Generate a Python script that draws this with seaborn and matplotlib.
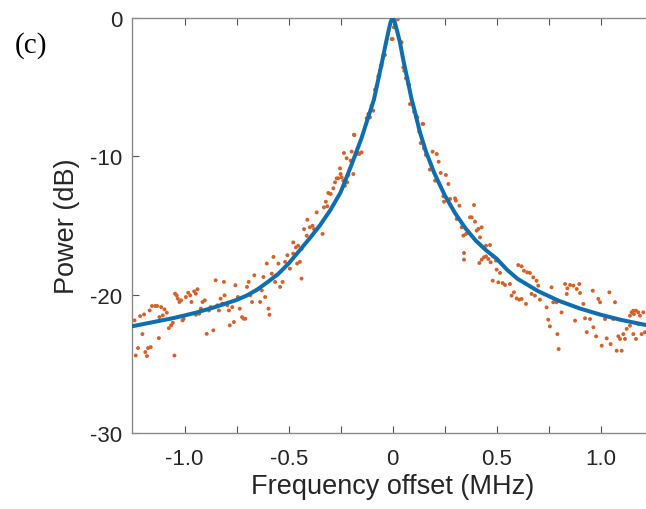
import numpy as np
import pandas as pd
import matplotlib
matplotlib.use("Agg")
import matplotlib.pyplot as plt
import seaborn as sns

# ---------------- data ----------------
left_tail_x = [-1.241,-1.235,-1.224,-1.203,-1.214,-1.195,-1.189,-1.181,-1.176,-1.163,
               -1.168,-1.157,-1.141,-1.132,-1.121,-1.113,-1.105,-1.097,-1.086,-1.124,
               -1.076,-1.065,-1.057,-1.049,-1.046,-1.038,-1.033,-1.025,-1.017,-1.010,
               -1.005,-0.994,-0.983,-0.973,-0.967,-0.954,-0.946,-0.938,-0.946,-0.930,
               -0.922,-0.914,-0.903,-0.894,-0.883,-0.875,-0.862,-0.851,-0.843,-0.835,
               -0.827,-0.819,-0.811,-0.808,-0.795,-0.787,-0.783,-0.771,-0.763,-0.756,
               -0.744,-0.735,-0.724,-0.716,-0.708,-0.700,-0.692,-0.684,-0.676,-0.665,
               -0.656,-0.644,-0.637,-0.629,-0.621,-0.613,-0.605,-0.597,-0.592,-0.581,
               -0.573,-0.565,-0.557,-0.549,-0.541,-0.529,-0.517,-0.506,-0.494,-0.478,
               -0.459,-0.446,-0.438]
left_tail_y = [-21.86,-24.40,-23.86,-22.85,-21.55,-21.43,-24.15,-24.44,-23.86,-23.79,
               -21.14,-20.82,-20.82,-20.82,-21.62,-20.90,-21.50,-21.06,-21.30,-23.14,
               -22.42,-22.22,-22.03,-24.40,-19.93,-20.05,-20.29,-20.53,-20.41,-21.86,
               -21.74,-20.17,-19.86,-20.05,-20.53,-19.76,-19.93,-19.61,-21.45,-21.38,
               -21.01,-20.53,-20.41,-22.83,-21.14,-20.90,-22.58,-18.96,-20.77,-21.14,
               -20.29,-20.65,-19.08,-20.05,-20.77,-21.14,-22.22,-20.90,-21.98,-19.32,
               -20.17,-21.01,-21.62,-21.74,-21.74,-19.44,-19.08,-20.05,-20.53,-18.60,
               -19.69,-19.57,-20.53,-19.69,-18.72,-20.17,-17.75,-21.01,-21.45,-18.48,
               -17.27,-19.08,-18.60,-17.75,-19.44,-19.08,-17.63,-17.15,-18.12,-17.03,
               -17.75,-17.63,-18.84]

left_rise_x = [-0.337,-0.330,-0.321,-0.314,-0.309,-0.298,-0.285,-0.277,-0.269,-0.261,
               -0.250,-0.245,-0.237,-0.229,-0.218,-0.234,-0.221,-0.202,-0.197,-0.189,
               -0.184,-0.173,-0.160,-0.149,-0.125,-0.117,-0.109,-0.101,-0.093,-0.085,
               -0.077,-0.069,-0.061,-0.056,-0.045,-0.037,-0.005,0.006,0.016,0.024,
               -0.186,-0.053,-0.064,
               -0.478,-0.465,-0.454,-0.438,-0.426,-0.413,-0.410,-0.398,-0.385,-0.378,
               -0.365,-0.253,-0.213,-0.165]
left_rise_y = [-15.61,-13.69,-13.28,-13.61,-12.65,-12.72,-12.31,-11.88,-11.59,-11.59,
               -11.28,-11.52,-11.76,-12.12,-11.88,-9.76,-10.14,-10.31,-9.66,-11.28,
               -8.46,-9.83,-9.83,-9.71,-7.25,-6.94,-7.18,-6.34,-6.70,-5.18,
               -4.94,-4.22,-3.81,-3.45,-2.72,-2.67,-1.52,-0.67,-0.02,-0.10,
               -8.44,-3.45,-4.17,
               -16.22,-16.58,-16.46,-16.70,-15.26,-15.74,-14.58,-15.13,-15.02,-15.26,
               -14.05,-10.87,-11.35,-9.76]

right_fall_x = [0.043,0.051,0.056,0.064,0.071,0.080,0.083,0.103,0.112,0.119,
                0.128,0.135,0.144,0.151,0.160,0.179,0.192,0.204,0.212,0.221,
                0.231,0.244,0.247,0.256,0.268,0.276,0.300,0.304,0.308,0.321,
                0.332,0.340,0.353,0.364,0.372,0.380,0.391,0.396,0.404,0.412,
                0.420,0.428,0.449,0.468,0.000,0.027,0.075,0.147]
right_fall_y = [-1.76,-3.57,-3.81,-4.36,-4.36,-4.84,-6.22,-6.77,-7.11,-7.18,
                -8.22,-9.04,-7.66,-9.42,-9.90,-10.96,-9.66,-11.76,-9.83,-10.39,
                -11.20,-12.89,-13.28,-11.35,-12.00,-13.08,-13.04,-13.20,-14.53,-13.57,
                -15.13,-15.73,-15.61,-15.49,-14.41,-14.41,-13.52,-14.72,-15.37,-15.25,
                -15.86,-15.13,-16.46,-16.41,-1.52,0.0,-4.77,-7.66]

right_tail_x = [0.343,0.343,0.417,0.428,0.439,0.449,0.460,0.471,0.484,0.497,
                0.481,0.508,0.529,0.540,0.500,0.516,0.564,0.572,0.583,0.596,
                0.609,0.620,0.604,0.620,0.631,0.647,0.660,0.641,0.676,0.692,
                0.700,0.668,0.684,0.708,0.740,0.748,0.756,0.764,0.772,0.788,
                0.792,0.798,0.812,0.829,0.840,0.853,0.869,0.885,0.897,0.901,
                0.837,0.877,0.917,0.925,0.933,0.949,0.962,0.965,0.978,0.989,
                0.997,1.005,1.021,1.029,1.042,1.048,1.061,1.069,1.077,1.085,
                1.093,1.101,1.109,1.117,1.125,1.141,1.149,1.157,1.160,1.170,
                1.181,1.189,1.205,1.141,1.157,1.170,1.181,1.197,1.213]
right_tail_y = [-16.99,-17.47,-17.71,-17.47,-17.30,-17.23,-17.42,-17.66,-17.23,-17.54,
                -18.99,-19.11,-19.16,-19.30,-18.19,-18.43,-19.23,-20.07,-19.83,-20.27,
                -20.36,-20.31,-17.86,-17.95,-18.27,-18.39,-18.43,-20.67,-18.75,-18.99,
                -19.35,-19.95,-20.07,-20.36,-20.92,-21.81,-22.29,-19.47,-20.55,-20.55,
                -22.85,-23.93,-21.28,-19.23,-19.54,-19.30,-19.35,-19.59,-19.23,-19.88,
                -19.95,-21.88,-20.67,-21.71,-22.71,-21.76,-19.71,-22.36,-23.01,-20.31,
                -20.55,-23.69,-21.76,-23.16,-19.83,-23.57,-21.76,-20.55,-24.05,-23.01,
                -23.20,-24.05,-22.85,-23.20,-22.47,-21.52,-21.28,-21.16,-21.40,-21.16,
                -21.28,-21.52,-21.28,-22.24,-22.85,-23.20,-22.12,-22.85,-22.72]

fit_x = [-1.25,-1.15,-1.05,-0.95,-0.85,-0.75,-0.70,-0.65,-0.60,-0.55,-0.50,-0.45,
         -0.40,-0.35,-0.30,-0.25,-0.20,-0.15,-0.12,-0.09,-0.07,-0.05,-0.035,-0.02,
         -0.01,0.0,0.01,0.02,0.035,0.05,0.07,0.09,0.11,0.13,0.16,0.20,0.25,0.30,
         0.35,0.40,0.45,0.50,0.55,0.60,0.70,0.80,0.90,1.00,1.10,1.22]
fit_y = [-22.28,-21.98,-21.68,-21.32,-20.88,-20.38,-20.05,-19.62,-19.08,-18.50,-17.75,-16.85,
         -15.95,-15.00,-13.90,-12.60,-10.70,-8.70,-7.30,-5.90,-4.50,-3.10,-2.00,-0.95,
         -0.30,0.0,-0.30,-0.85,-1.75,-2.95,-4.35,-5.80,-6.95,-8.20,-9.65,-11.20,-12.80,-14.10,
         -15.20,-16.10,-16.80,-17.40,-18.20,-18.85,-19.75,-20.45,-21.00,-21.45,-21.83,-22.20]

xtick_values = [-1.0, -0.75, -0.5, -0.25, 0.0, 0.25, 0.5, 0.75, 1.0]
xtick_labels = ["-1.0", "", "-0.5", "", "0", "", "0.5", "", "1.0"]
ytick_values = [-30, -20, -10, 0]
ytick_labels = ["-30", "-20", "-10", "0"]

# ---------------- styling ----------------
sns.set_style("white")
plt.rcParams["font.family"] = ["Liberation Sans", "DejaVu Sans"]
plt.rcParams["axes.unicode_minus"] = False

scatter_df = pd.DataFrame({
    "freq": left_tail_x + left_rise_x + right_fall_x + right_tail_x,
    "power": left_tail_y + left_rise_y + right_fall_y + right_tail_y,
})
fit_df = pd.DataFrame({"freq": fit_x, "power": fit_y})

W, H = 646, 510
fig = plt.figure(figsize=(W / 100, H / 100), dpi=100)
ax = fig.add_axes([132 / W, 1 - 434 / H, (646 - 132) / W, (434 - 19) / H])

sns.scatterplot(data=scatter_df, x="freq", y="power", ax=ax, s=8,
                color="#d4612a", edgecolor="none", linewidth=0, zorder=2)
sns.lineplot(data=fit_df, x="freq", y="power", ax=ax, estimator=None, sort=False,
             color="#0f6fae", linewidth=2.9, zorder=3)

ax.set_xlim(-1.253, 1.218)
ax.set_ylim(-30, 0)
ax.set_xticks(xtick_values)
ax.set_xticklabels(xtick_labels)
ax.set_yticks(ytick_values)
ax.set_yticklabels(ytick_labels)

spine_col = "#8a8a8a"
for side in ["left", "bottom", "top"]:
    ax.spines[side].set_visible(True)
    ax.spines[side].set_color(spine_col)
    ax.spines[side].set_linewidth(1.0)
ax.spines["right"].set_visible(False)

ax.tick_params(axis="x", direction="in", length=5, width=0.8, color="#555555",
               top=True, bottom=True, labelsize=16, labelcolor="#262626", pad=11)
ax.tick_params(axis="y", direction="in", length=5, width=0.8, color="#555555",
               left=True, right=False, labelsize=16, labelcolor="#262626", pad=7)

ax.set_xlabel("Frequency offset (MHz)", fontsize=19.5, color="#262626")
ax.set_ylabel("Power (dB)", fontsize=19.5, color="#262626")
ax.xaxis.set_label_coords((392.7 - 132) / 514, -(474 - 434) / 415)
ax.yaxis.set_label_coords(-(132 - 80) / 514, 0.5)

fig.text(15 / W, 1 - 46 / H, "(c)", family="Liberation Serif", fontsize=21,
         va="center", ha="left", color="black")

fig.savefig("out.png", dpi=100)
